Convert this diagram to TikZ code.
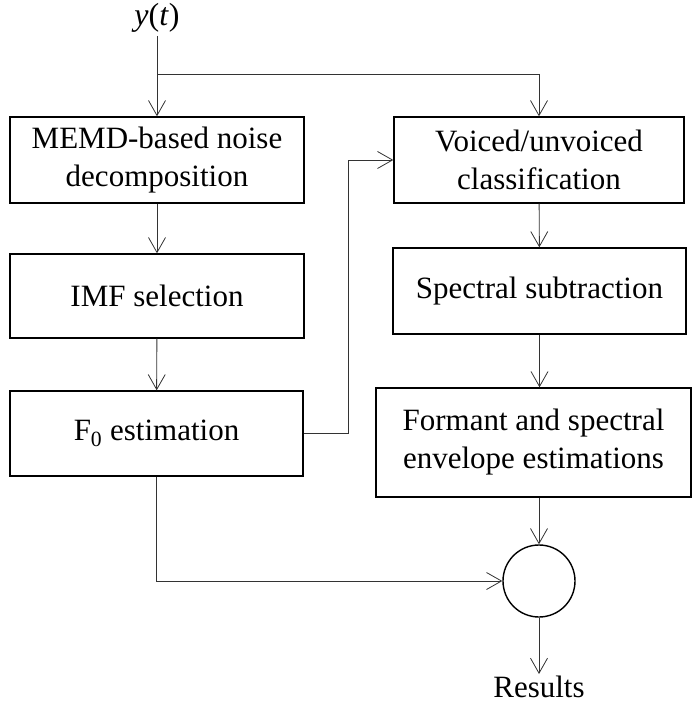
\documentclass[tikz,border=0pt]{standalone}
\usepackage{fontspec}
\setmainfont{Liberation Serif}
\usepackage{tikz}
\usetikzlibrary{arrows.meta}

\begin{document}
\begin{tikzpicture}[x=1pt,y=-1pt,
  box/.style={draw,line width=1.4pt,align=center,inner sep=0pt,
    font=\fontsize{31}{38}\selectfont},
  arr/.style={draw=black!80,line width=0.9pt,
    -{Straight Barb[length=15pt,width=17pt,line width=0.8pt]}},
  lbl/.style={inner sep=2pt,font=\fontsize{31}{38}\selectfont}]
\useasboundingbox (0,0) rectangle (692,711);
% left column
\node[lbl,font=\fontsize{32}{38}\selectfont,inner sep=3pt] (y) at (157,18) {\textit{y}(\textit{t})};
\node[box,minimum width=294pt,minimum height=86pt] (memd) at (157,160) {MEMD-based noise\\decomposition};
\node[box,minimum width=294pt,minimum height=84pt] (imf) at (157,296) {IMF selection};
\node[box,minimum width=293pt,minimum height=85pt] (fzero) at (156.5,433.5) {F\textsubscript{0} estimation};
% right column
\node[box,minimum width=290pt,minimum height=86pt] (voi) at (539,160) {Voiced/unvoiced\\classification};
\node[box,minimum width=293pt,minimum height=86pt] (spec) at (539.5,291) {Spectral subtraction};
\node[box,minimum width=315pt,minimum height=109pt] (form) at (533.5,442.5) {Formant and spectral\\envelope estimations};
\node[draw,circle,line width=1.4pt,minimum size=72pt,inner sep=0pt] (sum) at (539,581) {};
\node[lbl,anchor=north] (res) at (539,674) {Results};
\coordinate (split) at (157,74);
% arrows
\draw[arr] (y.south) -- (memd.north);
\draw[draw=black!80,line width=0.9pt] (split) -- (split -| voi.north);
\draw[arr] (split -| voi.north) -- (voi.north);
\draw[arr] (memd) -- (imf);
\draw[arr] (imf) -- (fzero);
\draw[arr] (voi) -- (spec);
\draw[arr] (spec.south) -- (form.north -| spec.south);
\draw[arr] (form.south -| sum) -- (sum.north);
\draw[arr] (fzero.east) -- ++(45,0) |- (voi.west);
\draw[arr] (fzero.south) |- (sum.west);
\draw[arr] (sum.south) -- (res.north);
\end{tikzpicture}
\end{document}
